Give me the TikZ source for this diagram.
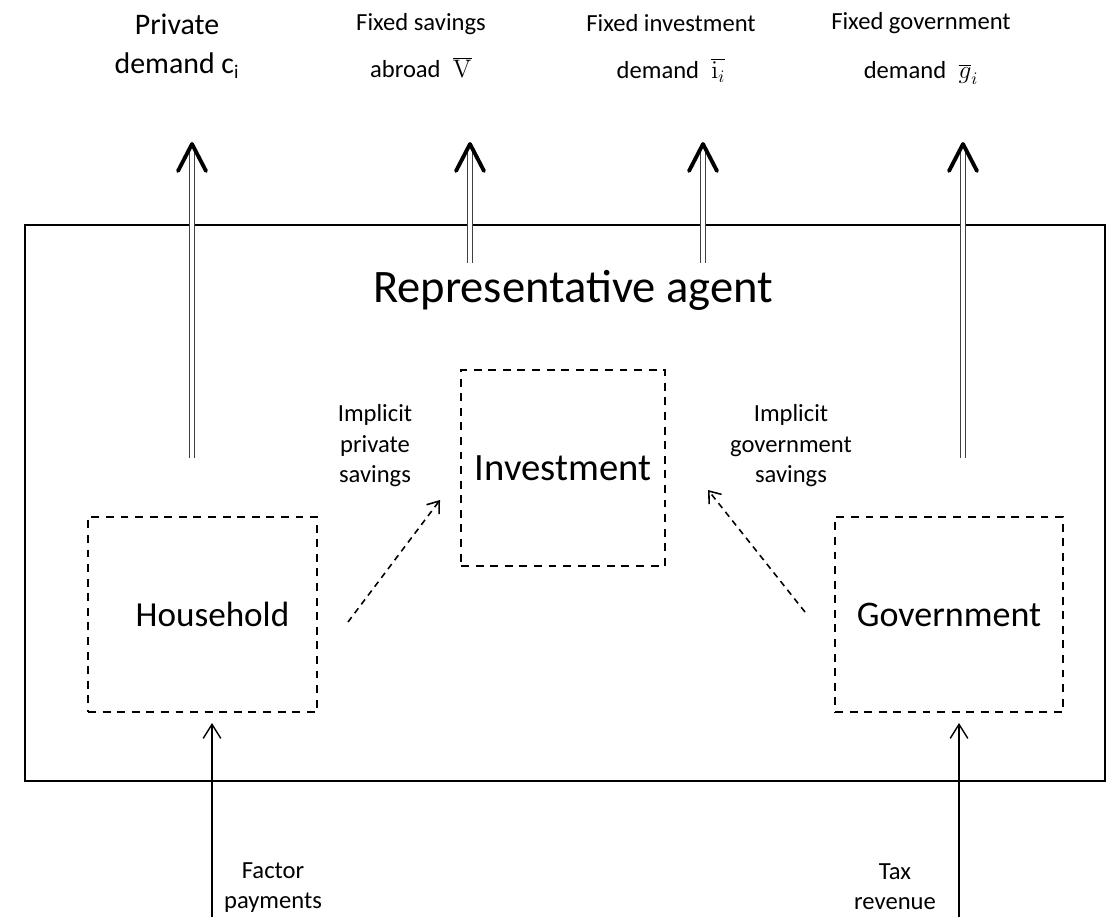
\documentclass[tikz,border=0pt]{standalone}
\usepackage[no-math]{fontspec}
\setmainfont{Carlito}
\usetikzlibrary{calc,arrows.meta}
\def\chevron(#1){\draw[line width=2.2pt, line cap=round, line join=round] ($(#1)+(-14,27)$) -- (#1) -- ($(#1)+(14,27)$);}

\begin{document}
\begin{tikzpicture}[x=0.02cm, y=-0.02cm,
		dbl/.style={double=white, double distance=2.6pt, line width=0.6pt, draw=black!75},
		sector/.style={draw, dash pattern=on 4.5pt off 3.8pt, line width=0.8pt, inner sep=0pt, font=\fontsize{20}{24}\selectfont},
		flow/.style={dash pattern=on 3.5pt off 2.8pt, line width=0.9pt, -{Straight Barb[length=6pt, width=9pt]}},
		income/.style={line width=0.8pt, -{Straight Barb[length=8pt, width=10pt]}},
		lbl/.style={font=\fontsize{14}{17.5}\selectfont, align=center, inner sep=0pt}]
		%%%%% START %%%%%
		\useasboundingbox (0,0) rectangle (1112,917);
		
		\draw[line width=0.8pt] (25,225) rectangle (1105,781);
		\node[anchor=base, inner sep=0pt, font=\fontsize{26.5}{30}\selectfont] (ra) at (573,302) {Representative agent};
		
		\node[sector, minimum width=4.58cm, minimum height=3.9cm] (hh) at (202.5,614.5) {\hspace*{0.4cm}Household};
		\node[sector, minimum width=4.08cm, minimum height=3.92cm, font=\fontsize{22}{26}\selectfont] (inv) at (563,468) {Investment};
		\node[sector, minimum width=4.56cm, minimum height=3.9cm, font=\fontsize{20.5}{25}\selectfont] (gov) at (949,614.5) {Government};
		
		\node[lbl, anchor=north, font=\fontsize{17}{22}\selectfont] (pd) at (177,14) {Private\\demand c\textsubscript{\fontsize{11}{11}\selectfont i}};
		\node[lbl, anchor=north, font=\fontsize{14}{27}\selectfont] (sa) at (421,13) {Fixed savings\\abroad\enspace$\overline{\mathrm{V}}$};
		\node[lbl, anchor=north, font=\fontsize{14}{27}\selectfont] (id) at (671,14) {Fixed investment\\demand\enspace$\overline{\mathrm{i}_{i}}$};
		\node[lbl, anchor=north, font=\fontsize{14}{28}\selectfont] (gd) at (921,12) {Fixed government\\demand\enspace$\overline{g}_{i}$};
		
		\coordinate (pdFoot) at (192,458); \coordinate (pdTip) at (192,144);
		\coordinate (saFoot) at (470,263); \coordinate (saTip) at (470,144);
		\coordinate (idFoot) at (703,263); \coordinate (idTip) at (703,144);
		\coordinate (gdFoot) at (963,458); \coordinate (gdTip) at (963,144);
		\draw[dbl] (pdFoot) -- ($(pdTip)+(0,4)$); \chevron(pdTip)
		\draw[dbl] (saFoot) -- ($(saTip)+(0,4)$); \chevron(saTip)
		\draw[dbl] (idFoot) -- ($(idTip)+(0,4)$); \chevron(idTip)
		\draw[dbl] (gdFoot) -- ($(gdTip)+(0,4)$); \chevron(gdTip)
		
		% implicit savings
		\node[lbl, anchor=north] (ps) at (375,404) {Implicit\\private\\savings};
		\node[lbl, anchor=north] (gs) at (791,404) {Implicit\\government\\savings};
		\coordinate (psFrom) at (348,622); \coordinate (psTo) at (440,500);
		\coordinate (gsFrom) at (805,612); \coordinate (gsTo) at (708,490);
		\draw[flow] (psFrom) -- (psTo);
		\draw[flow] (gsFrom) -- (gsTo);
		
		% incomes
		\node[lbl, anchor=north] (fp) at (273,862) {Factor\\payments};
		\node[lbl, anchor=north] (tr) at (895,863) {Tax\\revenue};
		\coordinate (fpIn) at (212,917); \coordinate (fpTip) at (212,723);
		\coordinate (trIn) at (959,917); \coordinate (trTip) at (959,723);
		\draw[income] (fpIn) -- (fpTip);
		\draw[income] (trIn) -- (trTip);
		%%%%% END %%%%%
\end{tikzpicture}
\end{document}
